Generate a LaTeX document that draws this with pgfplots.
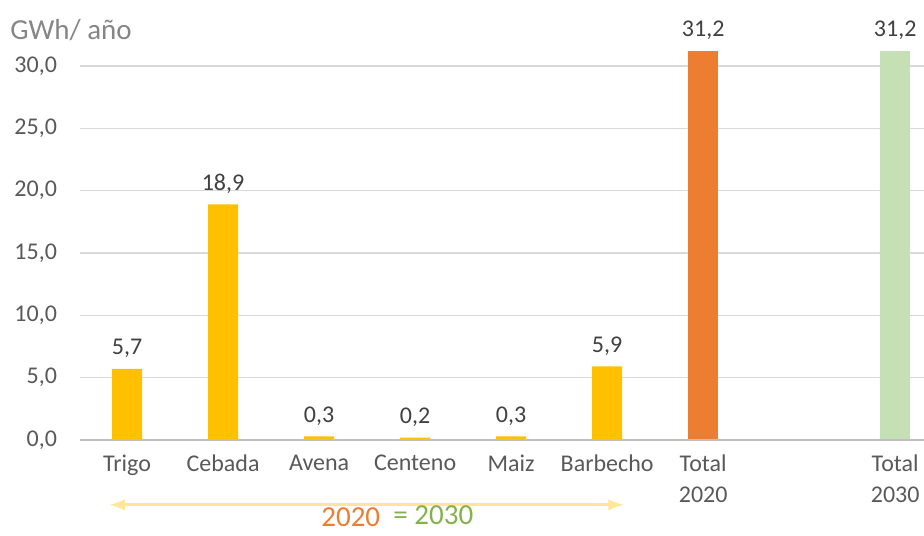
\documentclass[border=0pt]{standalone}
\usepackage{fontspec}
\setmainfont{Carlito}
\usepackage{pgfplots}
\pgfplotsset{compat=1.18}
\definecolor{barY}{HTML}{FFC000}
\definecolor{barO}{HTML}{ED7D31}
\definecolor{barG}{HTML}{C5E0B4}
\definecolor{txt}{HTML}{595959}
\definecolor{lbl}{HTML}{404040}
\definecolor{gridc}{HTML}{D9D9D9}
\definecolor{basec}{HTML}{BFBFBF}
\definecolor{arrowc}{HTML}{FFE699}
\definecolor{grn}{HTML}{84B24A}
\begin{document}
\begin{tikzpicture}
\begin{axis}[
    scale only axis, width=422pt, height=187pt,
    xmin=-0.49, xmax=8.3, ymin=0, ymax=30,
    ybar, bar width=15pt,
    axis line style={draw=none},
    ytick={0,5,...,30},
    ymajorgrids, grid style={gridc, line width=0.7pt},
    major tick length=0pt,
    xtick={0,1,2,3,4,5,6,8},
    xticklabels={Trigo,Cebada,Avena,Centeno,Maiz,Barbecho,{Total\\2020},{Total\\2030}},
    xticklabel style={align=center, text=txt, font=\fontsize{12}{15.5}\selectfont, yshift=-4pt},
    yticklabel style={text=txt, font=\fontsize{12}{14}\selectfont, xshift=-8pt},
    yticklabel={\pgfmathprintnumber[fixed,fixed zerofill,precision=1,use comma,assume math mode=true]{\tick}},
    nodes near coords={\pgfmathprintnumber[fixed,fixed zerofill,precision=1,use comma,assume math mode=true]{\pgfplotspointmeta}},
    every node near coord/.append style={text=lbl, font=\fontsize{12}{14}\selectfont, yshift=2pt},
    clip=false,
]
% cultivos 2020
\addplot[fill=barY, draw=none, bar shift=0pt] coordinates {
    (0,5.7) (1,18.9) (2,0.3) (3,0.2) (4,0.3) (5,5.9)
};
% totales
\addplot[fill=barO, draw=none, bar shift=0pt] coordinates {(6,31.2)};
\addplot[fill=barG, draw=none, bar shift=0pt] coordinates {(8,31.2)};

\draw[basec, line width=0.8pt] (axis cs:-0.49,0) -- (axis cs:8.3,0);
\draw[arrowc, line width=1.6pt, <->, >=latex] (axis cs:-0.18,-5.2) -- (axis cs:5.17,-5.2);
\node[anchor=base, inner sep=0pt, text=barO, font=\fontsize{14.5}{16}\selectfont] at (axis cs:2.33,-6.95) {2020};
\node[anchor=base west, inner sep=0pt, text=grn, font=\fontsize{14.5}{16}\selectfont] at (axis cs:2.77,-6.8) {= 2030};
\end{axis}
\node[anchor=base west, inner sep=0pt, text=gray!95!white, font=\fontsize{14.5}{16}\selectfont]
    at ([xshift=-35pt,yshift=13.5pt]current axis.north west) {GWh/ año};
\pgfresetboundingbox
\path[use as bounding box] ([xshift=-40pt,yshift=-47.5pt]current axis.south west)
    rectangle ([yshift=33pt]current axis.north east);
\end{tikzpicture}
\end{document}
